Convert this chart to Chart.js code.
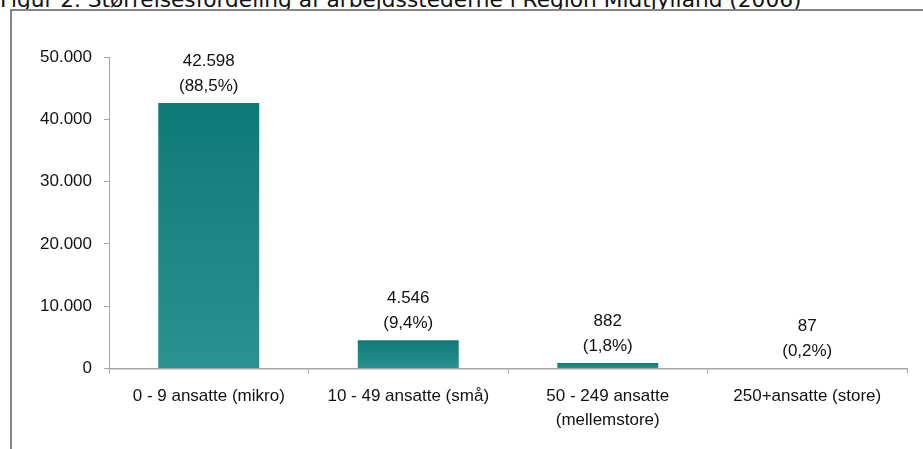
<!DOCTYPE html>
<html>
<head>
<meta charset="utf-8">
<style>
    body { margin: 0; background: #fff; width: 923px; height: 449px; overflow: hidden; position: relative; }
    #title { position: absolute; left: 0; top: -11px; font-family: "DejaVu Sans", Verdana, sans-serif; font-size: 21.7px; line-height: 21px; color: #111; white-space: nowrap; }
    #frame { position: absolute; left: 10px; top: 9px; width: 960px; height: 480px; border-top: 2px solid #858585; border-left: 2px solid #858585; }
    #wrap { position: absolute; left: 0; top: 0; width: 923px; height: 449px; }
</style>
</head>
<body>
<div id="title">Figur 2. Størrelsesfordeling af arbejdsstederne i Region Midtjylland (2006)</div>
<div id="frame"></div>
<div id="wrap"><canvas id="chart" width="923" height="449"></canvas></div>
<script src="https://cdn.jsdelivr.net/npm/chart.js@4.4.0/dist/chart.umd.min.js"></script>
<script>
// data
const categories = [
    '0 - 9 ansatte (mikro)',
    '10 - 49 ansatte (små)',
    ['50 - 249 ansatte', '(mellemstore)'],
    '250+ansatte (store)'
];
const counts = [42598, 4546, 882, 87];
const shares = [88.5, 9.4, 1.8, 0.2];
const yTicks = [0, 10000, 20000, 30000, 40000, 50000];

const AXIS = '#a6a6a6';
const FONT = '"Liberation Sans", Arial, sans-serif';

function fmtThousands(n) {
    return String(n).replace(/\B(?=(\d{3})+(?!\d))/g, '.');
}
function fmtShare(p) {
    return '(' + p.toFixed(1).replace('.', ',') + '%)';
}

// two-line value labels above each bar
const valueLabels = {
    id: 'valueLabels',
    afterDatasetsDraw(chart) {
        const ctx = chart.ctx;
        const meta = chart.getDatasetMeta(0);
        ctx.save();
        ctx.font = '17px ' + FONT;
        ctx.fillStyle = '#111';
        ctx.textAlign = 'center';
        ctx.textBaseline = 'middle';
        meta.data.forEach(function(bar, i) {
            ctx.fillText(fmtThousands(counts[i]), bar.x, bar.y - 42);
            ctx.fillText(fmtShare(shares[i]), bar.x, bar.y - 17);
        });
        ctx.restore();
    }
};

function barGradient(context) {
    const chart = context.chart;
    const y = chart.scales.y;
    if (!chart.chartArea || !y) return '#178582';
    const top = y.getPixelForValue(context.raw);
    const base = y.getPixelForValue(0);
    if (!isFinite(top) || !isFinite(base)) return '#178582';
    const g = chart.ctx.createLinearGradient(0, top, 0, Math.max(base, top + 1));
    g.addColorStop(0, '#0e7a77');
    g.addColorStop(1, '#2a928f');
    return g;
}

document.addEventListener('DOMContentLoaded', function() {
    const canvas = document.getElementById('chart');
    if (!canvas) return;
    new Chart(canvas.getContext('2d'), {
        type: 'bar',
        data: {
            labels: categories,
            datasets: [{
                data: counts,
                backgroundColor: barGradient,
                borderWidth: 0,
                barPercentage: 0.506,
                categoryPercentage: 1.0
            }]
        },
        options: {
            responsive: false,
            animation: false,
            devicePixelRatio: 1,
            layout: { padding: { top: 57, right: 16, bottom: 0, left: 0 } },
            plugins: { legend: { display: false }, tooltip: { enabled: false } },
            scales: {
                x: {
                    grid: { drawOnChartArea: false, color: AXIS, tickLength: 5, offset: true },
                    border: { display: true, color: AXIS, width: 1.5 },
                    ticks: { color: '#111', font: { family: FONT, size: 17, lineHeight: 1.42 }, padding: 11, maxRotation: 0, autoSkip: false },
                    afterFit(scale) { scale.height = 80.5; }
                },
                y: {
                    min: 0,
                    max: 50000,
                    afterBuildTicks(scale) { scale.ticks = yTicks.map(v => ({ value: v })); },
                    grid: { drawOnChartArea: false, color: AXIS, tickLength: 5 },
                    border: { display: true, color: AXIS, width: 1 },
                    ticks: { color: '#111', font: { family: FONT, size: 17 }, padding: 12, callback: v => fmtThousands(v) },
                    afterFit(scale) { scale.width = 109; }
                }
            }
        },
        plugins: [valueLabels]
    });
});
</script>
</body>
</html>
